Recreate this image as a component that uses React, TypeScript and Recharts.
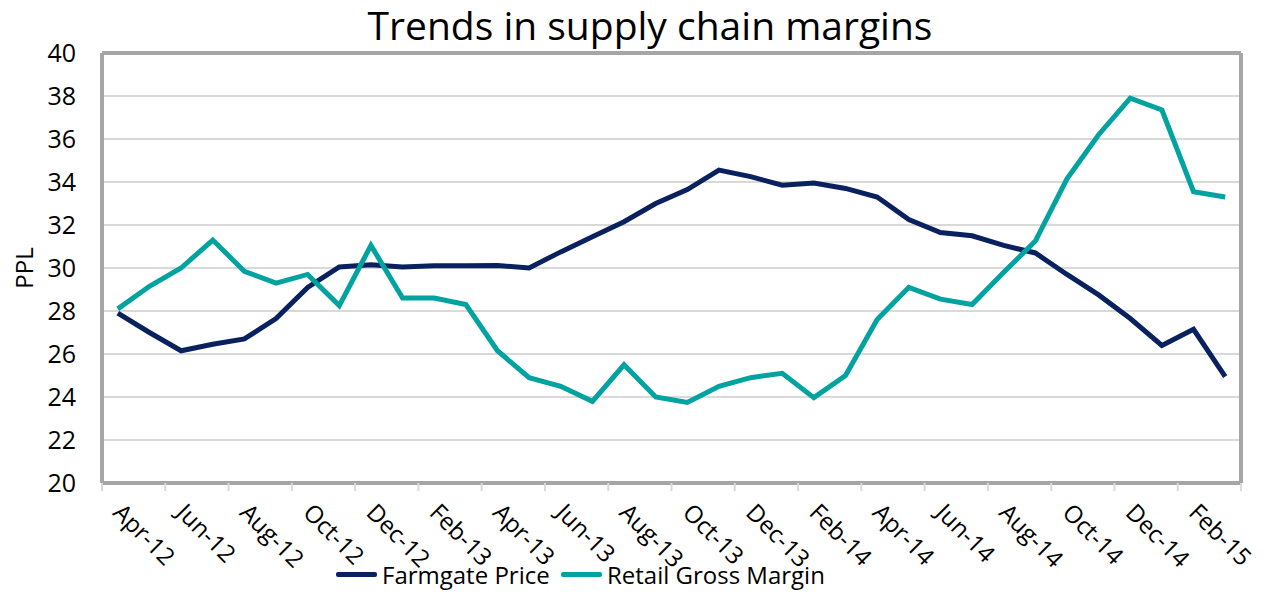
import React from 'react';
import { LineChart, Line, XAxis, YAxis, CartesianGrid } from 'recharts';

const months = [
  'Apr-12','May-12','Jun-12','Jul-12','Aug-12','Sep-12','Oct-12','Nov-12','Dec-12','Jan-13','Feb-13','Mar-13',
  'Apr-13','May-13','Jun-13','Jul-13','Aug-13','Sep-13','Oct-13','Nov-13','Dec-13','Jan-14','Feb-14','Mar-14',
  'Apr-14','May-14','Jun-14','Jul-14','Aug-14','Sep-14','Oct-14','Nov-14','Dec-14','Jan-15','Feb-15','Mar-15',
];

const farmgatePrice = [
  27.9, 27.0, 26.15, 26.45, 26.7, 27.65, 29.1, 30.05, 30.15, 30.05, 30.1, 30.1,
  30.12, 30.0, 30.75, 31.45, 32.15, 33.0, 33.65, 34.55, 34.25, 33.85, 33.95, 33.7,
  33.3, 32.25, 31.65, 31.5, 31.05, 30.7, 29.7, 28.75, 27.65, 26.4, 27.15, 24.95,
];

const retailGrossMargin = [
  28.1, 29.15, 30.0, 31.3, 29.85, 29.3, 29.7, 28.25, 31.05, 28.6, 28.6, 28.3,
  26.15, 24.9, 24.5, 23.8, 25.5, 24.0, 23.75, 24.5, 24.9, 25.1, 23.97, 25.0,
  27.6, 29.1, 28.55, 28.3, 29.8, 31.25, 34.15, 36.2, 37.9, 37.35, 33.55, 33.3,
];

const yTicks = [20, 22, 24, 26, 28, 30, 32, 34, 36, 38, 40];

const data = months.map((m, i) => ({
  month: m,
  farmgate: farmgatePrice[i],
  retail: retailGrossMargin[i],
}));

const FONT = '"Open Sans", sans-serif';
const NAVY = '#0a2160';
const TEAL = '#00a3a0';
const BORDER = '#a6a6a6';

const W = 1269;
const H = 594;
const PLOT_LEFT = 102;
const PLOT_RIGHT = 1241;
const BAND = (PLOT_RIGHT - PLOT_LEFT) / months.length;

const XTick = (props: any) => {
  const { x, y, payload } = props;
  const left = x - BAND / 2;
  const isLast = payload.value === 'Feb-15';
  return (
    <g>
      <line x1={left} x2={left} y1={y} y2={y + 8} stroke="#d9d9d9" strokeWidth={2} />
      {isLast && (
        <line x1={left + 2 * BAND} x2={left + 2 * BAND} y1={y} y2={y + 8} stroke="#d9d9d9" strokeWidth={2} />
      )}
      <text
        transform={`translate(${x - 6},${y + 31}) rotate(45)`}
        textAnchor="start"
        fontSize={24}
        fontFamily={FONT}
        fill="#000"
      >
        {payload.value}
      </text>
    </g>
  );
};

export default function App() {
  return (
    <div style={{ position: 'absolute', left: 0, top: 0, width: W, height: H, background: '#fff', fontFamily: FONT }}>
      <div
        style={{
          position: 'absolute', left: 0, top: 0, width: 1300, textAlign: 'center',
          fontSize: 39, lineHeight: '50px', color: '#000', fontFamily: FONT,
        }}
      >
        Trends in supply chain margins
      </div>
      <LineChart
        width={W}
        height={H}
        data={data}
        margin={{ top: 52, right: 27, bottom: 0, left: 0 }}
      >
        <CartesianGrid horizontal vertical={false} stroke="#d9d9d9" strokeWidth={2} />
        <XAxis
          dataKey="month"
          scale="band"
          interval={1}
          height={111}
          tickSize={0}
          tickMargin={0}
          tickLine={false}
          axisLine={{ stroke: BORDER, strokeWidth: 4 }}
          tick={<XTick />}
        />
        <XAxis
          xAxisId="top"
          dataKey="month"
          scale="band"
          orientation="top"
          height={1}
          tick={false}
          tickLine={false}
          axisLine={{ stroke: BORDER, strokeWidth: 4 }}
        />
        <YAxis
          domain={[20, 40]}
          ticks={yTicks}
          width={102}
          tickSize={0}
          tickMargin={26}
          tickLine={false}
          axisLine={{ stroke: BORDER, strokeWidth: 4 }}
          tick={{ fontSize: 25, fill: '#000', fontFamily: FONT }}
          label={{ value: 'PPL', angle: -90, position: 'insideLeft', offset: 24, style: { fontSize: 24, fill: '#000', fontFamily: FONT, textAnchor: 'middle' } }}
        />
        <YAxis
          yAxisId="right"
          orientation="right"
          domain={[20, 40]}
          width={1}
          tick={false}
          tickLine={false}
          axisLine={{ stroke: BORDER, strokeWidth: 4 }}
        />
        <Line
          type="linear"
          dataKey="farmgate"
          name="Farmgate Price"
          stroke={NAVY}
          strokeWidth={5}
          dot={false}
          isAnimationActive={false}
        />
        <Line
          type="linear"
          dataKey="retail"
          name="Retail Gross Margin"
          stroke={TEAL}
          strokeWidth={5}
          dot={false}
          isAnimationActive={false}
        />
      </LineChart>
      <div style={{ position: 'absolute', left: 336, top: 558, height: 32, display: 'flex', alignItems: 'center' }}>
        <div style={{ width: 41, height: 5, background: NAVY, borderRadius: 2 }} />
        <span style={{ marginLeft: 5, fontSize: 24, color: '#000' }}>Farmgate Price</span>
      </div>
      <div style={{ position: 'absolute', left: 561, top: 558, height: 32, display: 'flex', alignItems: 'center' }}>
        <div style={{ width: 41, height: 5, background: TEAL, borderRadius: 2 }} />
        <span style={{ marginLeft: 5, fontSize: 24, color: '#000' }}>Retail Gross Margin</span>
      </div>
    </div>
  );
}
